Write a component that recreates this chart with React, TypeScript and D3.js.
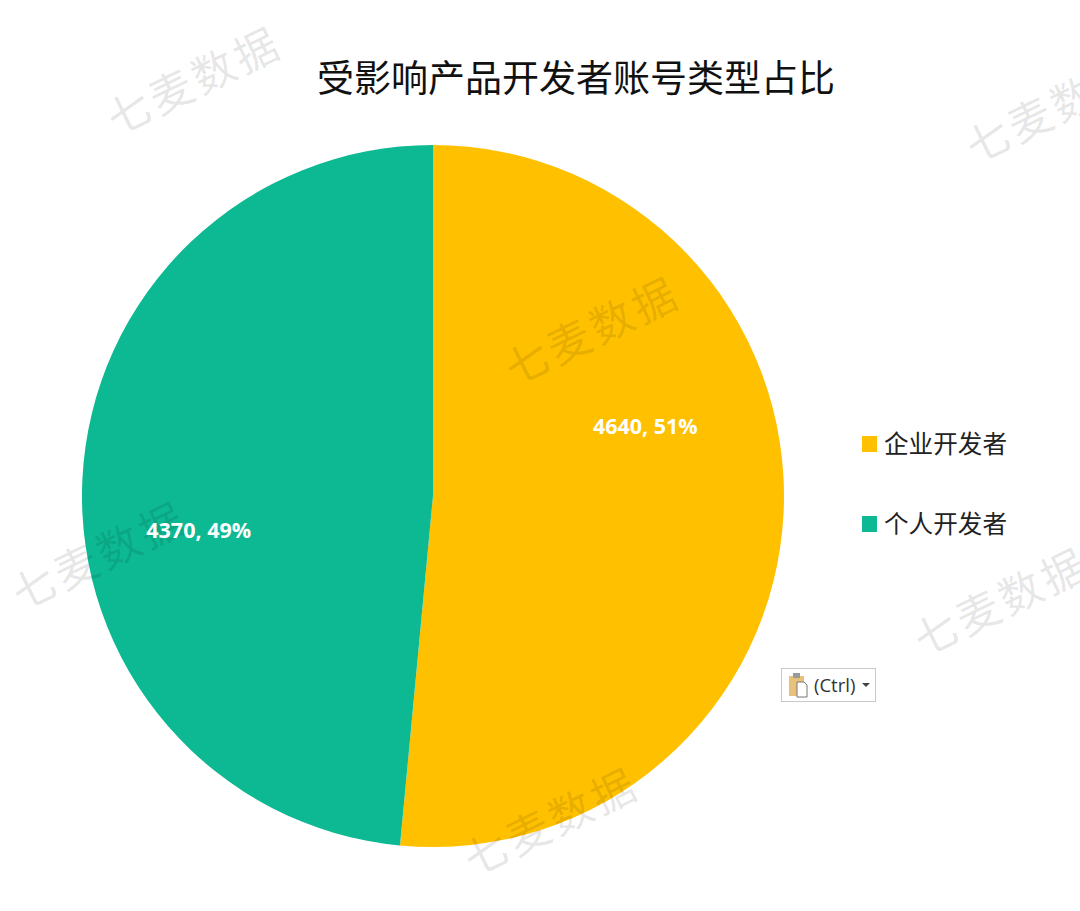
import * as d3 from "d3";
import React from "react";

const categories = ["企业开发者", "个人开发者"];
const counts = [4640, 4370];
const percents = ["51%", "49%"];
const title = "受影响产品开发者账号类型占比";
const watermarkText = "七麦数据";

const colors = d3.scaleOrdinal<string, string>().domain(categories).range(["#FFC000", "#0DB993"]);

const FONT = '"Noto Sans CJK SC", "Noto Sans", sans-serif';

export default function App() {
  const cx = 433;
  const cy = 496;
  const radius = 351;

  const pie = d3
    .pie<number>()
    .sort(null)
    .value((d) => d);
  const arc = d3.arc<d3.PieArcDatum<number>>().innerRadius(0).outerRadius(radius);
  const slices = pie(counts);

  // excel puts the labels off the centroid, so nudge them by hand
  const labelNudge = [
    [37, -79],
    [-59, 42],
  ];

  // watermark stamps over the whole image
  const stamps = [
    [193, 78],
    [1052, 106],
    [591, 328],
    [98, 553],
    [1000, 599],
    [550, 819],
  ];

  return (
    <svg
      width={1080}
      height={911}
      style={{ position: "absolute", left: 0, top: 0, background: "#fff", fontFamily: FONT }}
    >
      <g transform={`translate(${cx},${cy})`}>
        {slices.map((s, i) => (
          <path key={categories[i]} d={arc(s) || ""} fill={colors(categories[i])} />
        ))}
      </g>

      {stamps.map(([x, y], i) => (
        <text
          key={i}
          transform={`translate(${x},${y}) rotate(-26)`}
          textAnchor="middle"
          dominantBaseline="central"
          fontSize={43}
          letterSpacing={4}
          fill="#000"
          fillOpacity={0.11}
        >
          {watermarkText}
        </text>
      ))}

      <g transform={`translate(${cx},${cy})`}>
        {slices.map((s, i) => {
          const [x, y] = arc.centroid(s);
          return (
            <text
              key={i}
              x={x + labelNudge[i][0]}
              y={y + labelNudge[i][1]}
              textAnchor="middle"
              dominantBaseline="central"
              fontFamily='"Open Sans", "Noto Sans", sans-serif'
              fontWeight={700}
              fontSize={21.5}
              fill="#fff"
            >
              {`${counts[i]}, ${percents[i]}`}
            </text>
          );
        })}
      </g>

      <text x={576} y={76} textAnchor="middle" dominantBaseline="central" fontSize={37} fill="#111">
        {title}
      </text>

      {/* 凡例 */}
      {categories.map((c, i) => (
        <g key={c} transform={`translate(862,${436 + i * 80})`}>
          <rect width={15} height={16} fill={colors(c)} />
          <text x={22} y={6} dominantBaseline="central" fontSize={24.6} fill="#222">
            {c}
          </text>
        </g>
      ))}

      {/* paste options button */}
      <g transform="translate(781,668)">
        <rect x={0.5} y={0.5} width={94} height={33} fill="#fff" stroke="#c9c9c9" />
        <rect x={8} y={8} width={15} height={20} fill="#E8C27A" />
        <rect x={12} y={5} width={7} height={5} fill="#9a9a9a" />
        <path d="M16 14h7l3 3v12h-10z" fill="#fff" stroke="#777" />
        <text x={33} y={16} dominantBaseline="central" fontFamily='"Open Sans", sans-serif' fontSize={18.5} fill="#333">
          (Ctrl)
        </text>
        <path d="M81 15h8l-4 4z" fill="#444" />
      </g>
    </svg>
  );
}
